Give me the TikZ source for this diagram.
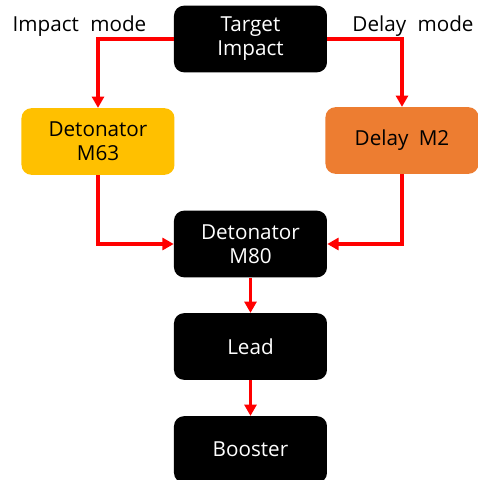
\documentclass[tikz,border=0pt]{standalone}
\usepackage{fontspec}
\setmainfont{Open Sans}
\usetikzlibrary{arrows.meta}

\definecolor{fuzeyellow}{HTML}{FFC000}
\definecolor{fuzeorange}{HTML}{ED7D31}

\tikzset{
  part/.style={rounded corners=7.5pt, minimum width=114.75pt, minimum height=50pt,
    align=center, font=\fontsize{15.5}{18}\selectfont, inner sep=0pt},
  blackpart/.style={part, fill=black, text=white},
  modelabel/.style={font=\fontsize{15.5}{18}\selectfont},
  flow/.style={red, line width=2.5pt, -{Triangle[length=8.5pt,width=9pt]}}
}

\begin{document}
\begin{tikzpicture}[x=0.75pt,y=-0.75pt]
    \useasboundingbox (0,0) rectangle (478,480);
    \clip (0,0) rectangle (478,480);

    % Boxes
    \node[blackpart] (target) at (250.5,39) {Target\\Impact};
    \node[part, fill=fuzeyellow] (det63) at (98,141.5) {Detonator\\M63};
    \node[part, fill=fuzeorange] (delay) at (402,140.5) {Delay\hspace{0.5em}M2};
    \node[blackpart] (det80) at (250.5,244) {Detonator\\M80};
    \node[blackpart] (lead) at (250.5,346.5) {Lead};
    \node[blackpart] (booster) at (250.5,449.5) {Booster};

    % Mode labels
    \node[modelabel] (impactlbl) at (79.5,26) {Impact\hspace{0.55em}mode};
    \node[modelabel] (delaylbl) at (413,26) {Delay\hspace{0.55em}mode};

    % Connectors
    \draw[flow] (target.west) -| (det63.north);
    \draw[flow] (target.east) -| (delay.north);
    \draw[flow] (det63.south) |- (det80.west);
    \draw[flow] (delay.south) |- (det80.east);
    \draw[flow] (det80) -- (lead);
    \draw[flow] (lead) -- (booster);

  \end{tikzpicture}
\end{document}
